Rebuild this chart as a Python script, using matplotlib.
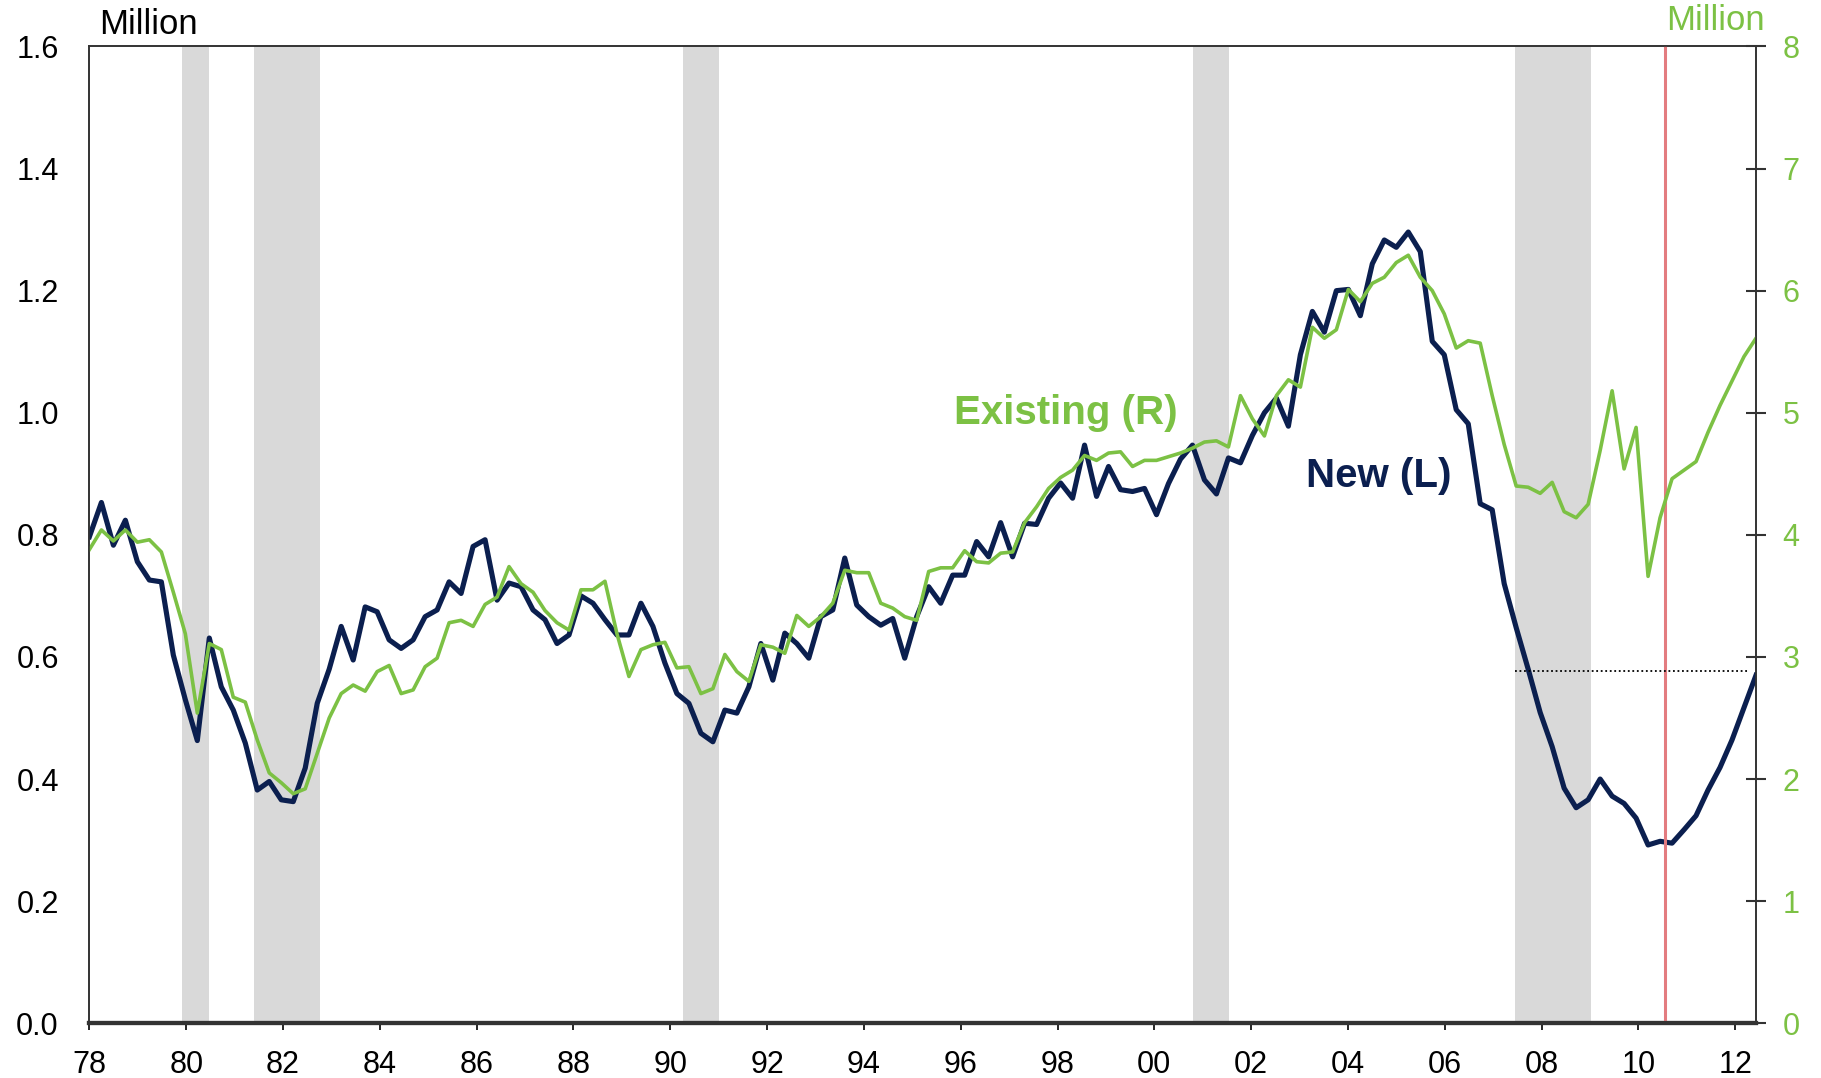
import numpy as np
import matplotlib
matplotlib.use("Agg")
import matplotlib.pyplot as plt

plt.rcParams['font.family'] = ['Liberation Sans', 'DejaVu Sans']

# quarterly sales, first quarter 1978 to mid 2012
new_sales = [  # million units, left axis
    0.797, 0.853, 0.783, 0.824, 0.756, 0.726, 0.723, 0.603, 0.530, 0.463,
    0.631, 0.551, 0.513, 0.459, 0.382, 0.396, 0.366, 0.363, 0.418, 0.524,
    0.580, 0.650, 0.595, 0.682, 0.674, 0.628, 0.614, 0.628, 0.666, 0.677,
    0.723, 0.704, 0.781, 0.792, 0.693, 0.721, 0.715, 0.677, 0.661, 0.622,
    0.636, 0.700, 0.688, 0.661, 0.636, 0.636, 0.688, 0.650, 0.590, 0.540,
    0.524, 0.475, 0.461, 0.513, 0.508, 0.551, 0.622, 0.562, 0.639, 0.622,
    0.598, 0.666, 0.677, 0.762, 0.685, 0.666, 0.652, 0.663, 0.598, 0.666,
    0.715, 0.688, 0.734, 0.734, 0.789, 0.764, 0.820, 0.764, 0.819, 0.817,
    0.860, 0.885, 0.860, 0.947, 0.863, 0.912, 0.874, 0.871, 0.876, 0.833,
    0.884, 0.924, 0.947, 0.890, 0.867, 0.926, 0.918, 0.963, 1.000, 1.024,
    0.978, 1.095, 1.166, 1.132, 1.200, 1.202, 1.159, 1.244, 1.283, 1.271,
    1.296, 1.264, 1.117, 1.095, 1.005, 0.982, 0.851, 0.841, 0.720, 0.648,
    0.580, 0.509, 0.453, 0.385, 0.353, 0.366, 0.400, 0.372, 0.360, 0.336,
    0.292, 0.298, 0.295, 0.317, 0.340, 0.382, 0.419, 0.464, 0.517, 0.570,
]
existing_sales = [  # million units, right axis
    3.88, 4.04, 3.95, 4.04, 3.94, 3.96, 3.86, 3.53, 3.19, 2.54,
    3.11, 3.06, 2.67, 2.63, 2.32, 2.05, 1.97, 1.88, 1.92, 2.21,
    2.50, 2.70, 2.77, 2.72, 2.88, 2.93, 2.70, 2.73, 2.92, 2.99,
    3.28, 3.30, 3.25, 3.43, 3.49, 3.74, 3.60, 3.53, 3.38, 3.28,
    3.22, 3.55, 3.55, 3.62, 3.19, 2.84, 3.06, 3.10, 3.12, 2.91,
    2.92, 2.70, 2.74, 3.02, 2.88, 2.80, 3.10, 3.08, 3.03, 3.34,
    3.25, 3.33, 3.44, 3.71, 3.69, 3.69, 3.44, 3.40, 3.33, 3.30,
    3.70, 3.73, 3.73, 3.87, 3.78, 3.77, 3.85, 3.86, 4.10, 4.23,
    4.38, 4.47, 4.53, 4.65, 4.61, 4.67, 4.68, 4.56, 4.61, 4.61,
    4.64, 4.67, 4.71, 4.76, 4.77, 4.72, 5.14, 4.95, 4.81, 5.14,
    5.27, 5.21, 5.70, 5.61, 5.68, 6.01, 5.91, 6.06, 6.11, 6.23,
    6.29, 6.11, 6.00, 5.81, 5.53, 5.59, 5.57, 5.14, 4.74, 4.40,
    4.39, 4.34, 4.43, 4.19, 4.14, 4.25, 4.69, 5.18, 4.54, 4.88,
    3.66, 4.14, 4.46, 4.53, 4.60, 4.84, 5.06, 5.26, 5.46, 5.61,
]

recessions = [(1979.92, 1980.47), (1981.41, 1982.77), (1990.26, 1991.0),
              (2000.79, 2001.54), (2007.46, 2009.02)]
marker_year = 2010.54
new_ref_level = 0.577
new_ref_span = (2007.46, 2012.26)

x_start, x_end = 1978.0, 2012.43
qstep = (x_end - x_start) / (len(new_sales) - 1)
dates = x_start + qstep * np.arange(len(new_sales))

navy = '#0b1f4f'
green = '#7cc144'

fig = plt.figure(figsize=(18.21, 10.78), dpi=100)
ax = fig.add_axes([0.0491, 0.0508, 0.9152, 0.9061])
ax2 = ax.twinx()

for a, b in recessions:
    ax.axvspan(a, b, color='#d9d9d9', lw=0, zorder=0)

ax.plot(dates, new_sales, color=navy, lw=3.7, zorder=3)
ax2.axvline(marker_year, color='#e37c80', lw=2.2, zorder=1)
ax2.hlines(new_ref_level * 5, *new_ref_span, colors='black', linestyles=(0, (1, 1.5)), lw=1.3, zorder=1)
ax2.plot(dates, existing_sales, color=green, lw=2.6, zorder=2)

ax.set_xlim(x_start, x_end)
ax.set_ylim(0, 1.6)
ax2.set_ylim(0, 8)

years = np.arange(1978, 2013, 2)
ax.set_xticks(years)
ax.set_xticklabels([f"{y % 100:02d}" for y in years])
ax.set_yticks(np.arange(0, 1.61, 0.2))
ax.set_yticklabels([f"{v:.1f}" for v in np.arange(0, 1.61, 0.2)])
ax2.set_yticks(range(0, 9))

ax.tick_params(axis='y', length=0, pad=22, labelsize=22)
ax.tick_params(axis='x', length=5, width=1.2, pad=14, labelsize=22, direction='out')
ax2.tick_params(axis='y', length=14, width=1.5, direction='inout', pad=12,
                labelsize=22, labelcolor=green, color='#333333')

for a in (ax, ax2):
    for s in a.spines.values():
        s.set_color('#333333')
        s.set_linewidth(1.2)
ax.spines['bottom'].set_linewidth(3)
ax2.spines['bottom'].set_linewidth(3)

ax.text(1998.18, 1.0, 'Existing (R)', color=green, fontsize=29, fontweight='bold',
        ha='center', va='center', zorder=5)
ax.text(2004.63, 0.896, 'New (L)', color=navy, fontsize=29, fontweight='bold',
        ha='center', va='center', zorder=5)

fig.text(99 / 1821, 1 - 25 / 1078, 'Million', fontsize=25, ha='left', va='center', color='black')
fig.text(1765 / 1821, 1 - 21 / 1078, 'Million', fontsize=25, ha='right', va='center', color=green)

fig.savefig('out.png', dpi=100)
